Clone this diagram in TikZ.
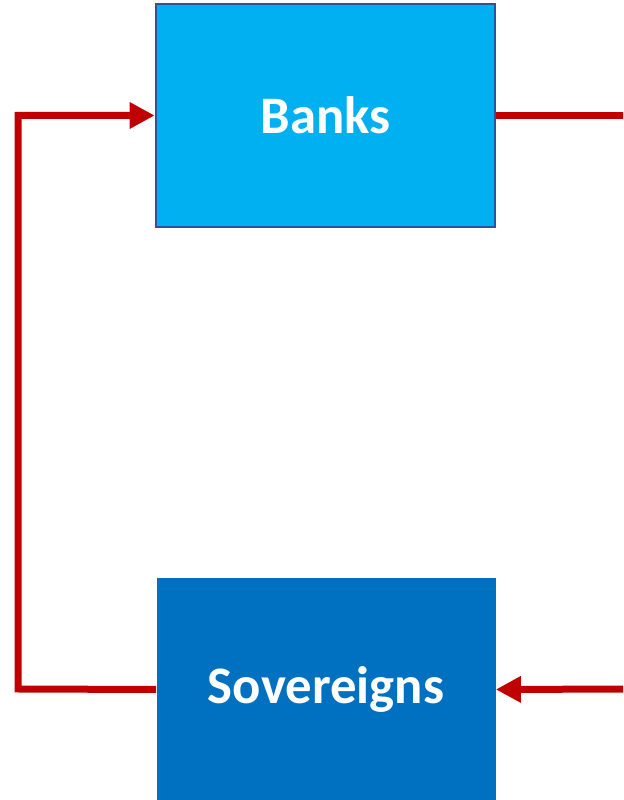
\documentclass[tikz,border=0pt]{standalone}
\usepackage{fontspec}
\setmainfont{Carlito}
\usepackage{tikz}
\usetikzlibrary{arrows.meta, positioning, calc}
\definecolor{banksblue}{RGB}{0,176,240}
\definecolor{sovblue}{RGB}{0,112,192}
\definecolor{edgeblue}{RGB}{47,84,150}
\definecolor{loopred}{RGB}{192,0,0}

\begin{document}
\begin{tikzpicture}[
    box/.style={minimum width=6.78cm, minimum height=4.46cm, inner sep=0pt,
        font=\fontsize{30}{36}\selectfont\bfseries, text=white},
    loop/.style={line width=0.14cm, loopred},
    tip/.style={-{Triangle[length=0.5cm, width=0.5cm]}}
]
    \clip (0,0) rectangle (12.46,16);
    \useasboundingbox (0,0) rectangle (12.46,16);

    % Boxes
    \node[box, fill=banksblue, draw=edgeblue, line width=1.5pt] (banks) at (6.51,13.69) {Banks};
    \node[box, fill=sovblue] (sov) at (6.52,2.21) {Sovereigns};

    % Loop round the left
    \coordinate (lefttop) at (0.36,13.69);
    \coordinate (leftbot) at (0.36,2.22);
    \draw[loop, tip] (sov.west) -- (leftbot) -- (lefttop) -- (banks.west);

    % Ends at the right edge
    \coordinate (rightout) at (12.6,13.69);
    \coordinate (rightin) at (12.6,2.22);
    \draw[loop] (banks.east) -- (rightout);
    \draw[loop, tip] (rightin) -- (sov.east);
\end{tikzpicture}
\end{document}
